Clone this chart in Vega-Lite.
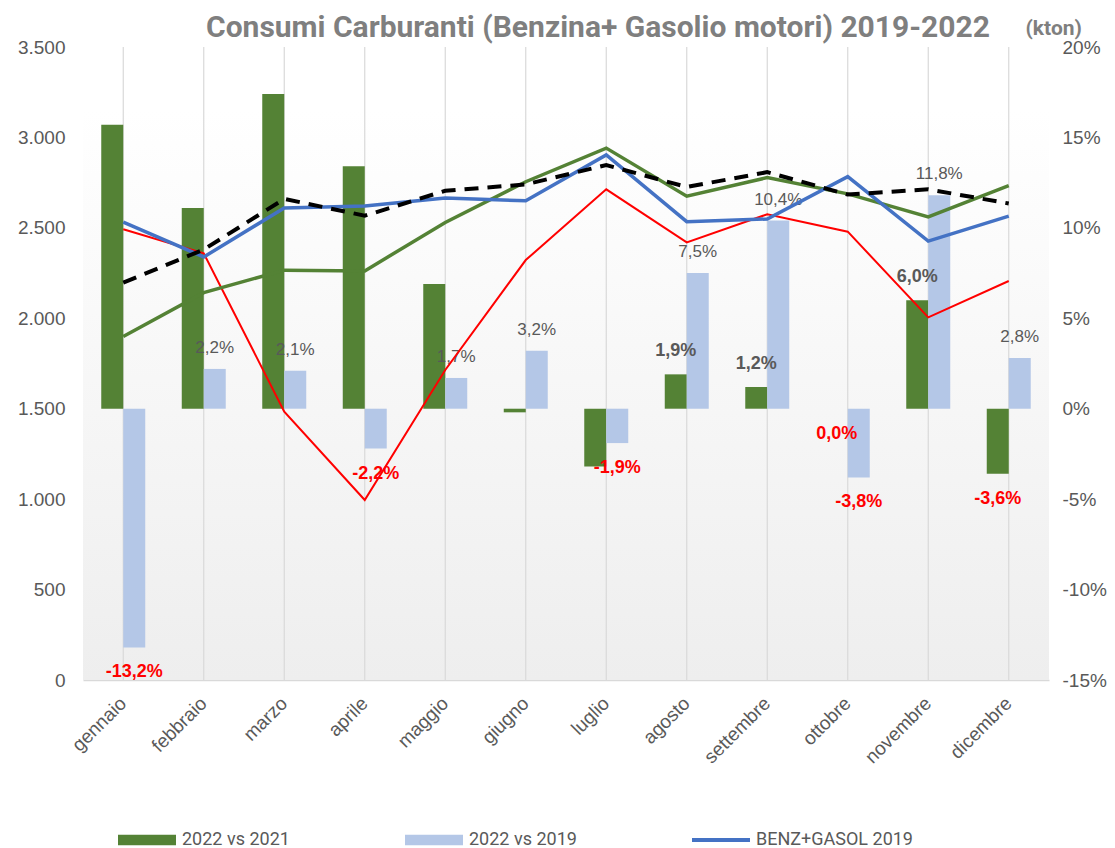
{
  "$schema": "https://vega.github.io/schema/vega-lite/v6.json",
  "width": 966,
  "height": 633,
  "autosize": {"type": "none"},
  "padding": {"left": 83, "top": 47, "right": 66, "bottom": 168},
  "background": "white",
  "config": {
    "locale": {"number": {"decimal": ",", "thousands": ".", "grouping": [3], "currency": ["", " €"], "minus": "-"}},
    "view": {"stroke": null},
    "font": "Liberation Sans"
  },
  "title": {
    "text": "Consumi Carburanti (Benzina+ Gasolio motori) 2019-2022",
    "anchor": "start", "frame": "group", "dx": 123, "dy": 35, "offset": 9,
    "font": "Roboto", "fontSize": 30, "fontWeight": "bold", "color": "#7f7f7f"
  },
  "datasets": {
    "barre": [
      {"mese": "gennaio", "serie": "2022 vs 2021", "pct": 0.157},
      {"mese": "febbraio", "serie": "2022 vs 2021", "pct": 0.111},
      {"mese": "marzo", "serie": "2022 vs 2021", "pct": 0.174},
      {"mese": "aprile", "serie": "2022 vs 2021", "pct": 0.134},
      {"mese": "maggio", "serie": "2022 vs 2021", "pct": 0.069},
      {"mese": "giugno", "serie": "2022 vs 2021", "pct": -0.002},
      {"mese": "luglio", "serie": "2022 vs 2021", "pct": -0.032},
      {"mese": "agosto", "serie": "2022 vs 2021", "pct": 0.019},
      {"mese": "settembre", "serie": "2022 vs 2021", "pct": 0.012},
      {"mese": "ottobre", "serie": "2022 vs 2021", "pct": 0.0},
      {"mese": "novembre", "serie": "2022 vs 2021", "pct": 0.060},
      {"mese": "dicembre", "serie": "2022 vs 2021", "pct": -0.036},
      {"mese": "gennaio", "serie": "2022 vs 2019", "pct": -0.132},
      {"mese": "febbraio", "serie": "2022 vs 2019", "pct": 0.022},
      {"mese": "marzo", "serie": "2022 vs 2019", "pct": 0.021},
      {"mese": "aprile", "serie": "2022 vs 2019", "pct": -0.022},
      {"mese": "maggio", "serie": "2022 vs 2019", "pct": 0.017},
      {"mese": "giugno", "serie": "2022 vs 2019", "pct": 0.032},
      {"mese": "luglio", "serie": "2022 vs 2019", "pct": -0.019},
      {"mese": "agosto", "serie": "2022 vs 2019", "pct": 0.075},
      {"mese": "settembre", "serie": "2022 vs 2019", "pct": 0.104},
      {"mese": "ottobre", "serie": "2022 vs 2019", "pct": -0.038},
      {"mese": "novembre", "serie": "2022 vs 2019", "pct": 0.118},
      {"mese": "dicembre", "serie": "2022 vs 2019", "pct": 0.028}
    ],
    "linee": [
      {"mese": "gennaio", "serie": "BENZ+GASOL 2019", "kton": 2532},
      {"mese": "febbraio", "serie": "BENZ+GASOL 2019", "kton": 2339},
      {"mese": "marzo", "serie": "BENZ+GASOL 2019", "kton": 2610},
      {"mese": "aprile", "serie": "BENZ+GASOL 2019", "kton": 2621},
      {"mese": "maggio", "serie": "BENZ+GASOL 2019", "kton": 2665},
      {"mese": "giugno", "serie": "BENZ+GASOL 2019", "kton": 2650},
      {"mese": "luglio", "serie": "BENZ+GASOL 2019", "kton": 2903},
      {"mese": "agosto", "serie": "BENZ+GASOL 2019", "kton": 2534},
      {"mese": "settembre", "serie": "BENZ+GASOL 2019", "kton": 2549},
      {"mese": "ottobre", "serie": "BENZ+GASOL 2019", "kton": 2783},
      {"mese": "novembre", "serie": "BENZ+GASOL 2019", "kton": 2427},
      {"mese": "dicembre", "serie": "BENZ+GASOL 2019", "kton": 2565},
      {"mese": "gennaio", "serie": "2020", "kton": 2492},
      {"mese": "febbraio", "serie": "2020", "kton": 2359},
      {"mese": "marzo", "serie": "2020", "kton": 1484},
      {"mese": "aprile", "serie": "2020", "kton": 995},
      {"mese": "maggio", "serie": "2020", "kton": 1714},
      {"mese": "giugno", "serie": "2020", "kton": 2322},
      {"mese": "luglio", "serie": "2020", "kton": 2713},
      {"mese": "agosto", "serie": "2020", "kton": 2420},
      {"mese": "settembre", "serie": "2020", "kton": 2575},
      {"mese": "ottobre", "serie": "2020", "kton": 2479},
      {"mese": "novembre", "serie": "2020", "kton": 2005},
      {"mese": "dicembre", "serie": "2020", "kton": 2206},
      {"mese": "gennaio", "serie": "2021", "kton": 1899},
      {"mese": "febbraio", "serie": "2021", "kton": 2142},
      {"mese": "marzo", "serie": "2021", "kton": 2266},
      {"mese": "aprile", "serie": "2021", "kton": 2262},
      {"mese": "maggio", "serie": "2021", "kton": 2530},
      {"mese": "giugno", "serie": "2021", "kton": 2755},
      {"mese": "luglio", "serie": "2021", "kton": 2941},
      {"mese": "agosto", "serie": "2021", "kton": 2675},
      {"mese": "settembre", "serie": "2021", "kton": 2778},
      {"mese": "ottobre", "serie": "2021", "kton": 2688},
      {"mese": "novembre", "serie": "2021", "kton": 2560},
      {"mese": "dicembre", "serie": "2021", "kton": 2733},
      {"mese": "gennaio", "serie": "2022", "kton": 2197},
      {"mese": "febbraio", "serie": "2022", "kton": 2380},
      {"mese": "marzo", "serie": "2022", "kton": 2660},
      {"mese": "aprile", "serie": "2022", "kton": 2567},
      {"mese": "maggio", "serie": "2022", "kton": 2705},
      {"mese": "giugno", "serie": "2022", "kton": 2740},
      {"mese": "luglio", "serie": "2022", "kton": 2847},
      {"mese": "agosto", "serie": "2022", "kton": 2726},
      {"mese": "settembre", "serie": "2022", "kton": 2808},
      {"mese": "ottobre", "serie": "2022", "kton": 2684},
      {"mese": "novembre", "serie": "2022", "kton": 2713},
      {"mese": "dicembre", "serie": "2022", "kton": 2635}
    ]
  },
  "layer": [
    {
      "data": {"values": [{}]},
      "mark": {
        "type": "rect",
        "fill": {
          "gradient": "linear", "x1": 0, "y1": 0, "x2": 0, "y2": 1,
          "stops": [
            {"offset": 0, "color": "#ffffff"},
            {"offset": 0.1, "color": "#ffffff"},
            {"offset": 1, "color": "#eeeeee"}
          ]
        }
      },
      "encoding": {}
    },
    {
      "data": {"name": "linee"},
      "transform": [{"filter": "datum.serie === '2020'"}],
      "mark": {"type": "rule", "color": "#d9d9d9", "strokeWidth": 1.2},
      "encoding": {
        "x": {
          "field": "mese", "type": "nominal",
          "sort": ["gennaio", "febbraio", "marzo", "aprile", "maggio", "giugno", "luglio", "agosto", "settembre", "ottobre", "novembre", "dicembre"],
          "scale": {"paddingInner": 0, "paddingOuter": 0},
          "axis": {
            "title": null, "labelAngle": -45, "labelAlign": "right", "labelBaseline": "middle",
            "labelPadding": 20, "labelFontSize": 19, "labelColor": "#595959", "labelFont": "Liberation Sans",
            "ticks": false, "domainColor": "#d9d9d9", "domainWidth": 1.5, "grid": false
          }
        }
      }
    },
    {
      "data": {"name": "barre"},
      "encoding": {
        "x": {
          "field": "mese", "type": "nominal",
          "sort": ["gennaio", "febbraio", "marzo", "aprile", "maggio", "giugno", "luglio", "agosto", "settembre", "ottobre", "novembre", "dicembre"],
          "scale": {"paddingInner": 0, "paddingOuter": 0},
          "axis": {
            "title": null, "labelAngle": -45, "labelAlign": "right", "labelBaseline": "middle",
            "labelPadding": 20, "labelFontSize": 19, "labelColor": "#595959", "labelFont": "Liberation Sans",
            "ticks": false, "domainColor": "#d9d9d9", "domainWidth": 1.5, "grid": false
          }
        },
        "xOffset": {
          "field": "serie", "type": "nominal",
          "sort": ["2022 vs 2021", "2022 vs 2019"],
          "scale": {"paddingInner": 0, "paddingOuter": 0.83}
        },
        "y": {
          "field": "pct", "type": "quantitative",
          "scale": {"domain": [-0.15, 0.2], "nice": false},
          "axis": {
            "orient": "right", "title": null, "format": ".0%",
            "values": [-0.15, -0.1, -0.05, 0, 0.05, 0.1, 0.15, 0.2],
            "grid": false, "ticks": false, "domain": false,
            "labelPadding": 13, "labelFontSize": 19, "labelColor": "#595959", "labelFont": "Liberation Sans"
          }
        }
      },
      "layer": [
        {
          "mark": {"type": "bar"},
          "encoding": {
            "color": {
              "field": "serie", "type": "nominal",
              "scale": {"domain": ["2022 vs 2021", "2022 vs 2019", "BENZ+GASOL 2019"], "range": ["#548235", "#b4c7e7", "#4472c4"]},
              "legend": {
                "orient": "none", "legendX": 35, "legendY": 764, "direction": "horizontal", "columns": 3,
                "gridAlign": "all", "columnPadding": 66, "title": null, "symbolSize": 3364, "symbolStrokeWidth": 0,
                "labelFont": "Roboto", "labelFontSize": 18, "labelColor": "#595959", "labelOffset": 6, "labelLimit": 300,
                "encode": {
                  "symbols": {
                    "update": {
                      "shape": {"signal": "datum.value === 'BENZ+GASOL 2019' ? 'M-1,-0.07H1V0.07H-1Z' : 'M-1,-0.18H1V0.18H-1Z'"},
                      "fill": {"scale": "color", "field": "value"},
                      "stroke": {"value": "transparent"},
                      "opacity": {"value": 1}
                    }
                  }
                }
              }
            }
          }
        },
        {
          "transform": [{"filter": "datum.serie === '2022 vs 2019' && datum.pct > 0"}],
          "mark": {"type": "text", "align": "center", "baseline": "middle", "dy": -21, "fontSize": 17, "color": "#595959", "font": "Liberation Sans"},
          "encoding": {"text": {"field": "pct", "format": ".1%"}}
        },
        {
          "transform": [{"filter": "datum.serie === '2022 vs 2021' && indexof(['agosto','settembre','novembre'], datum.mese) >= 0"}],
          "mark": {"type": "text", "align": "center", "baseline": "middle", "dy": -23, "fontSize": 18, "fontWeight": "bold", "color": "#595959", "font": "Liberation Sans"},
          "encoding": {"text": {"field": "pct", "format": ".1%"}}
        },
        {
          "transform": [{"filter": "(datum.serie === '2022 vs 2019' && datum.pct < 0) || (datum.serie === '2022 vs 2021' && indexof(['ottobre','dicembre'], datum.mese) >= 0)"}],
          "mark": {"type": "text", "align": "center", "baseline": "middle", "dy": 25, "fontSize": 18, "fontWeight": "bold", "color": "#ff0000", "font": "Liberation Sans"},
          "encoding": {"text": {"field": "pct", "format": ".1%"}}
        }
      ]
    },
    {
      "data": {"name": "linee"},
      "encoding": {
        "x": {
          "field": "mese", "type": "nominal",
          "sort": ["gennaio", "febbraio", "marzo", "aprile", "maggio", "giugno", "luglio", "agosto", "settembre", "ottobre", "novembre", "dicembre"],
          "scale": {"paddingInner": 0, "paddingOuter": 0},
          "axis": {
            "title": null, "labelAngle": -45, "labelAlign": "right", "labelBaseline": "middle",
            "labelPadding": 20, "labelFontSize": 19, "labelColor": "#595959", "labelFont": "Liberation Sans",
            "ticks": false, "domainColor": "#d9d9d9", "domainWidth": 1.5, "grid": false
          }
        },
        "y": {
          "field": "kton", "type": "quantitative",
          "scale": {"domain": [0, 3500], "nice": false},
          "axis": {
            "orient": "left", "values": [0, 500, 1000, 1500, 2000, 2500, 3000, 3500], "format": ",d",
            "grid": false, "ticks": false, "domain": false,
            "labelPadding": 18, "labelFontSize": 19, "labelColor": "#595959", "labelFont": "Liberation Sans",
            "title": "(kton)", "titleAngle": 0, "titleX": 942, "titleY": -13, "titleAlign": "left", "titleBaseline": "alphabetic",
            "titleFont": "Roboto", "titleFontSize": 21, "titleFontWeight": "bold", "titleColor": "#7f7f7f"
          }
        }
      },
      "layer": [
        {
          "transform": [{"filter": "datum.serie === '2020'"}],
          "mark": {"type": "line", "color": "#ff0000", "strokeWidth": 2},
          "encoding": {}
        },
        {
          "transform": [{"filter": "datum.serie === '2021'"}],
          "mark": {"type": "line", "color": "#548235", "strokeWidth": 3.5},
          "encoding": {}
        },
        {
          "transform": [{"filter": "datum.serie === 'BENZ+GASOL 2019'"}],
          "mark": {"type": "line", "strokeWidth": 3.5},
          "encoding": {
            "color": {
              "field": "serie", "type": "nominal",
              "scale": {"domain": ["2022 vs 2021", "2022 vs 2019", "BENZ+GASOL 2019"], "range": ["#548235", "#b4c7e7", "#4472c4"]},
              "legend": {
                "orient": "none", "legendX": 35, "legendY": 764, "direction": "horizontal", "columns": 3,
                "gridAlign": "all", "columnPadding": 66, "title": null, "symbolSize": 3364, "symbolStrokeWidth": 0,
                "labelFont": "Roboto", "labelFontSize": 18, "labelColor": "#595959", "labelOffset": 6, "labelLimit": 300,
                "encode": {
                  "symbols": {
                    "update": {
                      "shape": {"signal": "datum.value === 'BENZ+GASOL 2019' ? 'M-1,-0.07H1V0.07H-1Z' : 'M-1,-0.18H1V0.18H-1Z'"},
                      "fill": {"scale": "color", "field": "value"},
                      "stroke": {"value": "transparent"},
                      "opacity": {"value": 1}
                    }
                  }
                }
              }
            }
          }
        },
        {
          "transform": [{"filter": "datum.serie === '2022'"}],
          "mark": {"type": "line", "color": "#000000", "strokeWidth": 4, "strokeDash": [14, 9]},
          "encoding": {}
        }
      ]
    }
  ],
  "resolve": {"scale": {"y": "independent"}}
}
